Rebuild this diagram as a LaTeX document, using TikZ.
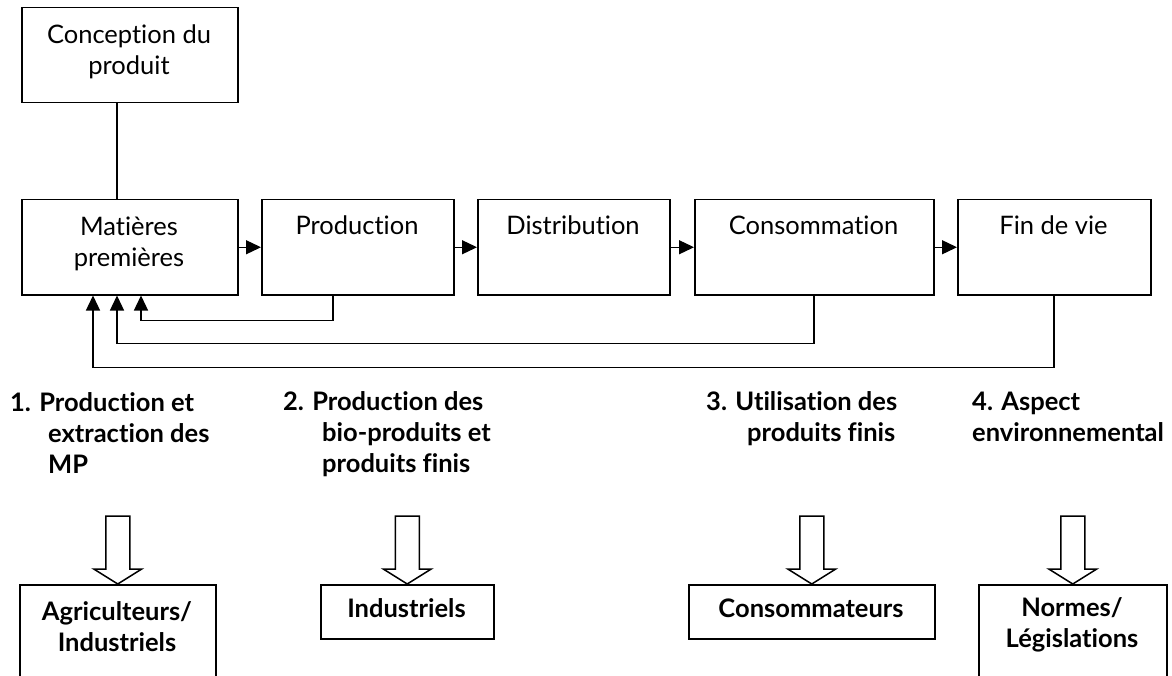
\documentclass[tikz,border=0pt]{standalone}
\usepackage{fontspec}
\setmainfont{Lato}[Ligatures=NoCommon]
\usetikzlibrary{arrows.meta,calc}
\begin{document}
\begin{tikzpicture}[x=1pt,y=-1pt,
  box/.style={draw, line width=1.5pt, inner sep=0pt, anchor=north west},
  lbl/.style={font=\fontsize{25.5}{31}\selectfont, align=center, inner sep=0pt, anchor=base},
  blc/.style={font=\bfseries\fontsize{25.5}{31}\selectfont, align=center, inner sep=0pt, anchor=base},
  bl/.style={font=\bfseries\fontsize{25.5}{31}\selectfont, align=left, inner sep=0pt, anchor=base west},
  conn/.style={line width=1.3pt},
  arr/.style={conn, -{Triangle[length=15pt,width=14pt]}},
  hollow/.style={line width=1.5pt, fill=white, line join=miter}]
\useasboundingbox (0,0) rectangle (1172,676);
\clip (0,0) rectangle (1172,676);

% top boxes
\node[box, minimum width=216pt, minimum height=95pt] (conc) at (21,7) {};
\node[box, minimum width=216pt, minimum height=95pt] (mp) at (21,199) {};
\node[box, minimum width=192pt, minimum height=95pt] (prod) at (261,199) {};
\node[box, minimum width=192pt, minimum height=95pt] (dist) at (477,199) {};
\node[box, minimum width=239pt, minimum height=95pt] (cons) at (694,199) {};
\node[box, minimum width=193pt, minimum height=95pt] (fin) at (957,199) {};

% (base anchor of a multi-line node = last line)
\node[lbl] (conc-t) at (129,75) {Conception du\\produit};
\node[lbl] (mp-t) at (129,267) {Matières\\premières};
\node[lbl] (prod-t) at (357,235) {Production};
\node[lbl] (dist-t) at (573,235) {Distribution};
\node[lbl] (cons-t) at (813.5,235) {Consommation};
\node[lbl] (fin-t) at (1053.5,235) {Fin de vie};

% connectors
\draw[conn] ($(conc.south west)+(96,0)$) -- ($(mp.north west)+(96,0)$);
\draw[arr] (mp.east) -- (prod.west);
\draw[arr] (prod.east) -- (dist.west);
\draw[arr] (dist.east) -- (cons.west);
\draw[arr] (cons.east) -- (fin.west);

\draw[arr] ($(prod.south west)+(72,0)$) |- ($(mp.south west)+(120,25)$) -- ($(mp.south west)+(120,0)$);
\draw[arr] ($(cons.south west)+(120,0)$) |- ($(mp.south west)+(96,48)$) -- ($(mp.south west)+(96,0)$);
\draw[arr] ($(fin.south west)+(97,0)$) |- ($(mp.south west)+(72,72)$) -- ($(mp.south west)+(72,0)$);

% labels
\node[bl] (l1) at (10,473) {1. Production et\\\hspace*{38pt}extraction des\\\hspace*{38pt}MP};
\node[bl] (l2) at (283,472) {2. Production des\\\hspace*{39pt}bio-produits et\\\hspace*{39pt}produits finis};
\node[bl] (l3) at (706,441) {3. Utilisation des\\\hspace*{41pt}produits finis};
\node[bl] (l4) at (972,441) {4. Aspect\\environnemental};

% bottom boxes
\node[box, minimum width=196pt, minimum height=130pt] (agr) at (19,584) {};
\node[box, minimum width=173pt, minimum height=54pt] (ind) at (320,584) {};
\node[box, minimum width=246pt, minimum height=54pt] (csm) at (688,584) {};
\node[box, minimum width=188pt, minimum height=130pt] (nor) at (978,584) {};

\node[blc] (agr-t) at (117,651) {Agriculteurs/\\Industriels};
\node[blc] (ind-t) at (406.5,617) {Industriels};
\node[blc] (csm-t) at (811,617) {Consommateurs};
\node[blc] (nor-t) at (1072,647) {Normes/\\Législations};

% hollow arrows
\foreach \n in {agr,ind,csm,nor}{
  \draw[hollow, shift={(\n.north)}] (-12,-68) -- (12,-68) -- (12,-15) -- (24,-15) -- (0,0) -- (-24,-15) -- (-12,-15) -- cycle;
}
\end{tikzpicture}
\end{document}
